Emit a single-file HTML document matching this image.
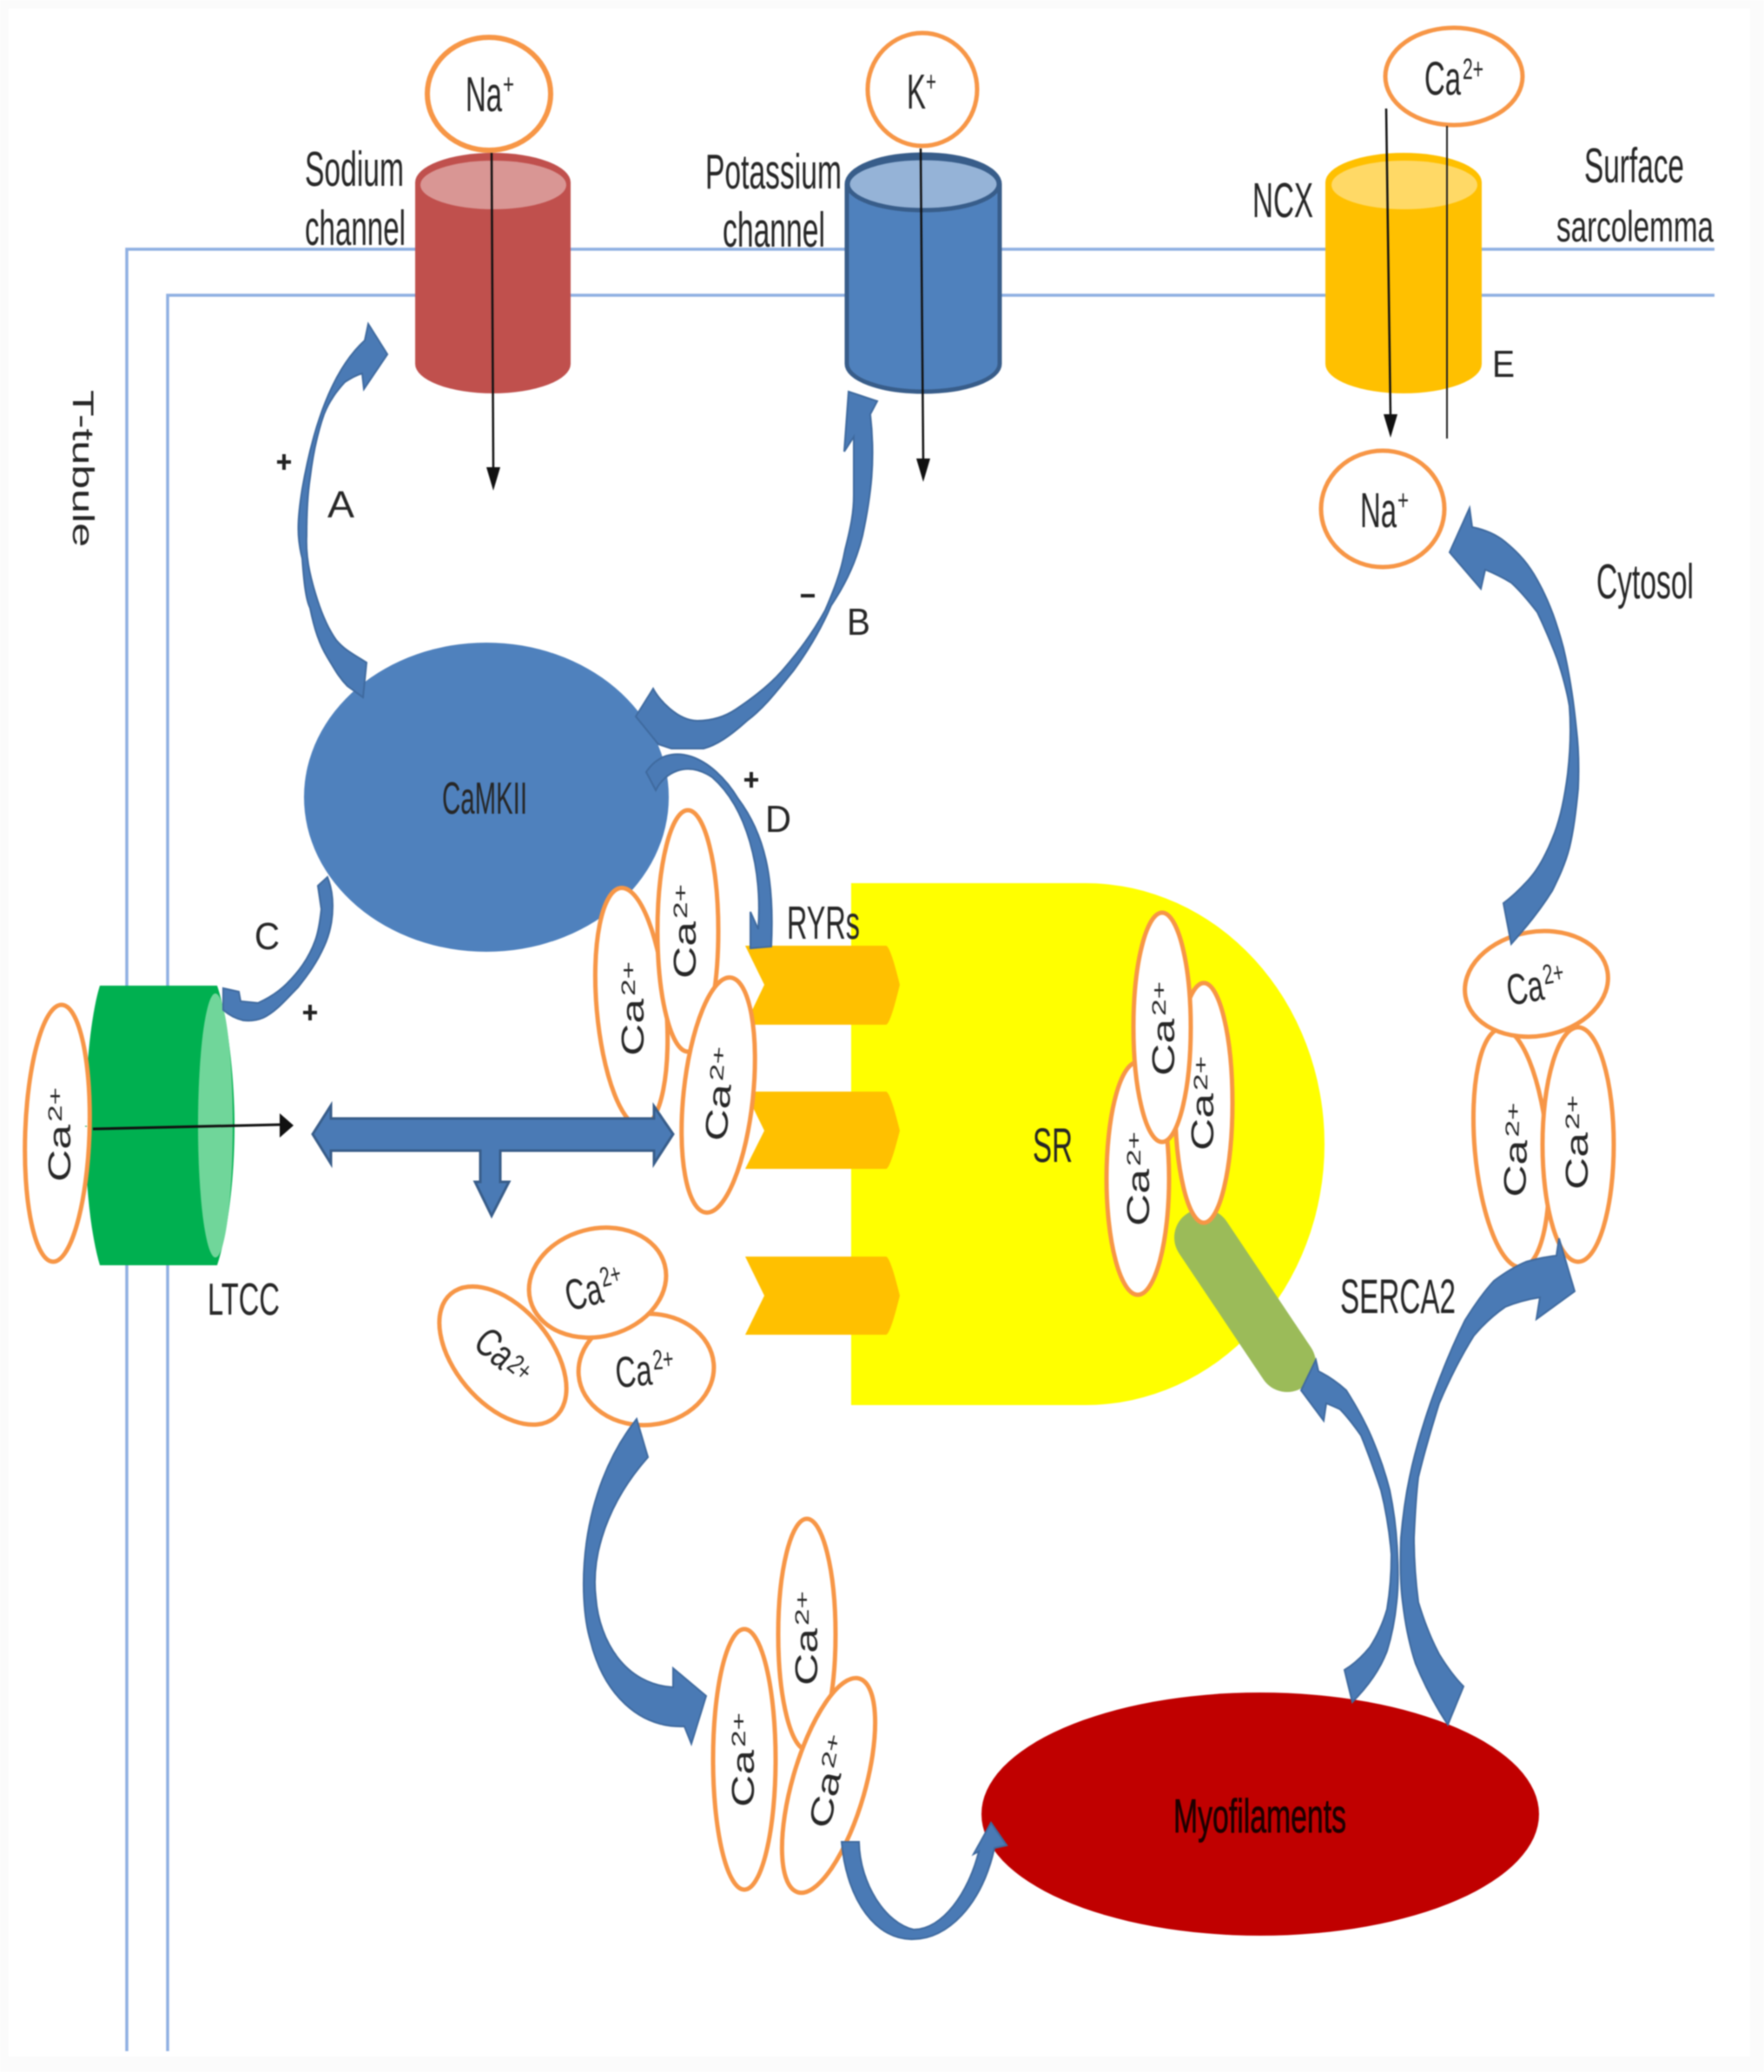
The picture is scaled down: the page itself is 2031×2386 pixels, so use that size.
<!DOCTYPE html>
<html><head><meta charset="utf-8"><style>
html,body{margin:0;padding:0;background:#fff}
svg{display:block;filter:blur(.9px)}
text{font-family:"Liberation Sans",sans-serif;fill:#262626}
.b{fill:#4a7ab5;stroke:#3f6a9f;stroke-width:2}
.o{fill:#fff;stroke:#f79646;stroke-width:5}
.c{fill:#111}
</style></head><body>
<svg width="2031" height="2386" viewBox="0 0 2031 2386" xmlns="http://www.w3.org/2000/svg">
<rect width="2031" height="2386" fill="#fbfbfb"/>
<rect x="10" y="10" width="2005" height="2358" fill="#fff"/>

<!-- membrane -->
<path d="M1974 287H146V2362M1974 340H193V2362" fill="none" stroke="#8fb0e2" stroke-width="3.5"/>
<text transform="translate(84 449) rotate(90)" font-size="34" textLength="181" lengthAdjust="spacingAndGlyphs" fill="#444">T-tubule</text>

<!-- SR -->
<path d="M980 1017H1250A275 300.500 0 0 1 1250 1618H980Z" fill="#ffff00"/>
<path d="M858 1089H1020Q1025 1089 1036 1134Q1025 1180 1020 1180H858L880 1134Z" fill="#ffc000"/>
<path d="M858 1257H1020Q1025 1257 1036 1302Q1025 1346 1020 1346H858L880 1302Z" fill="#ffc000"/>
<path d="M858 1447H1020Q1025 1447 1036 1492Q1025 1537 1020 1537H858L880 1492Z" fill="#ffc000"/>
<line x1="1385" y1="1425" x2="1482" y2="1570" stroke="#9bbb59" stroke-width="66" stroke-linecap="round"/>
<text x="1189" y="1338" font-size="56" textLength="46" lengthAdjust="spacingAndGlyphs" fill="#1a1a1a">SR</text>
<text x="906" y="1081" font-size="54" textLength="84" lengthAdjust="spacingAndGlyphs">RYRs</text>
<text x="1543" y="1512" font-size="56" textLength="133" lengthAdjust="spacingAndGlyphs">SERCA2</text>

<!-- Cylinders -->
<path d="M478 210V419A89.500 34 0 0 0 657 419V210A89.500 34 0 0 0 478 210Z" fill="#c0504d"/>
<ellipse cx="568" cy="213" rx="84" ry="28" fill="#d99694"/>
<path d="M975 212V419A88 32 0 0 0 1151 419V212A88 34 0 0 0 975 212Z" fill="#4f81bd" stroke="#385d8a" stroke-width="5"/>
<ellipse cx="1063" cy="212" rx="87" ry="30" fill="#95b3d7" stroke="#385d8a" stroke-width="5"/>
<path d="M1526 210V419A90 34 0 0 0 1706 419V210A90 34 0 0 0 1526 210Z" fill="#ffc000"/>
<ellipse cx="1617" cy="213" rx="84" ry="28" fill="#ffd966"/>
<path d="M115 1135H250C262 1170 270 1240 270 1296C270 1360 262 1420 250 1457H115C104 1420 98 1360 98 1296C98 1240 104 1170 115 1135Z" fill="#00b050"/>
<ellipse cx="248" cy="1296" rx="20" ry="152" fill="#70d69a"/>

<!-- Main ions top -->
<ellipse cx="563" cy="108" rx="71" ry="65" class="o" style="stroke-width:6"/>
<ellipse cx="1062" cy="103" rx="63" ry="65" class="o"/>
<ellipse cx="1674" cy="88" rx="79" ry="56" class="o"/>
<ellipse cx="1592" cy="586" rx="71" ry="67" class="o"/>

<text x="536" y="128" font-size="57" textLength="42" lengthAdjust="spacingAndGlyphs">Na</text>
<text x="579" y="108" font-size="32" textLength="13" lengthAdjust="spacingAndGlyphs">+</text>
<text x="1044" y="125" font-size="57" textLength="22" lengthAdjust="spacingAndGlyphs">K</text>
<text x="1066" y="105" font-size="32" textLength="12" lengthAdjust="spacingAndGlyphs">+</text>
<text x="1640" y="109" font-size="55" textLength="42" lengthAdjust="spacingAndGlyphs">Ca</text>
<text x="1684" y="91" font-size="34" textLength="24" lengthAdjust="spacingAndGlyphs">2+</text>
<text x="1566" y="607" font-size="57" textLength="42" lengthAdjust="spacingAndGlyphs">Na</text>
<text x="1609" y="587" font-size="32" textLength="13" lengthAdjust="spacingAndGlyphs">+</text>

<text x="351" y="214" font-size="57" textLength="114" lengthAdjust="spacingAndGlyphs">Sodium</text>
<text x="351" y="282" font-size="57" textLength="116" lengthAdjust="spacingAndGlyphs">channel</text>
<text x="812" y="217" font-size="57" textLength="157" lengthAdjust="spacingAndGlyphs">Potassium</text>
<text x="832" y="284" font-size="57" textLength="118" lengthAdjust="spacingAndGlyphs">channel</text>
<text x="1442" y="250" font-size="57" textLength="70" lengthAdjust="spacingAndGlyphs">NCX</text>
<text x="1824" y="210" font-size="57" textLength="115" lengthAdjust="spacingAndGlyphs">Surface</text>
<text x="1792" y="278" font-size="50" textLength="181" lengthAdjust="spacingAndGlyphs">sarcolemma</text>
<text x="1838" y="689" font-size="57" textLength="112" lengthAdjust="spacingAndGlyphs">Cytosol</text>

<!-- black arrows -->
<path d="M566 176L568 540" stroke="#111" stroke-width="2.500" fill="none"/><path d="M560 538H576L568 565Z" class="c"/>
<path d="M1060 171L1063 530" stroke="#111" stroke-width="2.500" fill="none"/><path d="M1055 528H1071L1063 555Z" class="c"/>
<path d="M1596 125L1601 480" stroke="#111" stroke-width="2.500" fill="none"/><path d="M1593 477H1609L1601 504Z" class="c"/>
<path d="M1666 145V505" stroke="#222" stroke-width="2"/>

<text x="1718" y="434" font-size="44" textLength="26" lengthAdjust="spacingAndGlyphs" fill="#111">E</text>
<text x="377" y="596" font-size="44" textLength="31" lengthAdjust="spacingAndGlyphs" fill="#111">A</text>
<text x="975" y="731" font-size="44" textLength="27" lengthAdjust="spacingAndGlyphs" fill="#111">B</text>
<text x="293" y="1093" font-size="44" textLength="29" lengthAdjust="spacingAndGlyphs" fill="#111">C</text>
<text x="881" y="958" font-size="44" textLength="30" lengthAdjust="spacingAndGlyphs" fill="#111">D</text>
<path d="M319 532H335M327 523V541M922 686H938M857 898H873M865 889V907M349 1166H365M357 1157V1175" stroke="#222" stroke-width="4" fill="none"/>

<!-- CaMKII -->
<ellipse cx="560" cy="918" rx="210" ry="178" fill="#4f81bd"/>
<text x="509" y="937" font-size="52" textLength="98" lengthAdjust="spacingAndGlyphs" fill="#0f1c33">CaMKII</text>

<!-- Curved arrows top -->
<path class="b" d="M446 408L424 373L420 392C387 422 363 477 348 563C342 600 342 620 348 643C350 670 352 690 357 700C362 725 368 742 377 757C385 770 390 780 400 790L418 803L422 763C410 755 398 750 387 737C375 720 368 700 363 683C356 660 352 640 353 617C353 590 354 570 357 550C360 525 365 500 373 477C380 460 388 450 397 440C405 435 410 432 417 430L419 448Z"/>
<path class="b" d="M977 451L1010 462L1002 477C1008 530 1003 570 993 617C985 650 972 675 957 697C945 725 930 750 913 773C895 795 880 815 860 830C840 848 825 858 810 862L773 862L758 857L732 825L752 793C758 805 780 830 803 830C820 830 835 825 847 817C865 805 885 790 900 773C920 750 935 730 950 703C960 680 968 660 973 633C980 605 983 590 983 570L983 503L972 520Z"/>
<path class="b" d="M744 889C770 850 820 870 850 920C880 960 892 1010 888 1090L864 1092L864 1050L873 1070C878 1000 860 930 820 895C790 875 765 890 755 910Z"/>
<path class="b" d="M377 1010L366 1020L370 1047C368 1065 366 1075 363 1083C355 1105 343 1120 330 1133C320 1143 308 1150 297 1155L277 1153L275 1142L257 1138L257 1163C265 1170 272 1173 280 1175C288 1176 296 1175 303 1172C318 1165 330 1150 343 1137C355 1122 365 1108 373 1090C380 1075 383 1060 383 1043C383 1030 381 1020 377 1010Z"/>

<!-- Ca cluster near CaMKII -->
<g transform="rotate(-5 727 1160)"><ellipse cx="727" cy="1160" rx="40" ry="138" class="o"/></g>
<ellipse cx="792" cy="1072" rx="35" ry="139" class="o"/>
<g transform="rotate(6 827 1261)"><ellipse cx="827" cy="1261" rx="40" ry="136" class="o"/></g>

<g transform="translate(741 1216) rotate(-90)"><text font-size="36" textLength="66" lengthAdjust="spacingAndGlyphs">Ca</text><text x="69" y="-10" font-size="22" textLength="40" lengthAdjust="spacingAndGlyphs">2+</text></g>
<g transform="translate(801 1127) rotate(-90)"><text font-size="36" textLength="66" lengthAdjust="spacingAndGlyphs">Ca</text><text x="69" y="-10" font-size="22" textLength="40" lengthAdjust="spacingAndGlyphs">2+</text></g>
<g transform="translate(836 1315) rotate(-85)"><text font-size="36" textLength="66" lengthAdjust="spacingAndGlyphs">Ca</text><text x="69" y="-10" font-size="22" textLength="40" lengthAdjust="spacingAndGlyphs">2+</text></g>

<!-- Double arrow -->
<path fill="#4a7ab5" stroke="#385d8a" stroke-width="3" d="M360 1306L381 1273V1288H753V1274L775 1306L753 1340V1325H576V1361H586L566 1400L547 1361H553V1325H381V1340Z"/>

<!-- LTCC -->
<ellipse cx="66" cy="1305" rx="37" ry="148" class="o" transform="rotate(2 66 1305)"/>
<g transform="translate(81 1361) rotate(-90)"><text font-size="36" textLength="66" lengthAdjust="spacingAndGlyphs">Ca</text><text x="69" y="-10" font-size="22" textLength="40" lengthAdjust="spacingAndGlyphs">2+</text></g>
<path d="M98 1297H100" stroke="#00b050" stroke-width="1"/>
<path d="M107 1300L325 1295" stroke="#111" stroke-width="3"/>
<path d="M322 1282L338 1296L322 1310Z" class="c"/>
<text x="239" y="1514" font-size="52" textLength="83" lengthAdjust="spacingAndGlyphs">LTCC</text>

<!-- Lower-left cluster -->
<ellipse cx="579" cy="1561" rx="93" ry="55" class="o" transform="rotate(50 579 1561)"/>
<ellipse cx="744" cy="1577" rx="78" ry="64" class="o" transform="rotate(-5 744 1577)"/>
<ellipse cx="688" cy="1477" rx="80" ry="62" class="o" transform="rotate(-15 688 1477)"/>
<g transform="translate(656 1510) rotate(-15)"><text font-size="50" textLength="42" lengthAdjust="spacingAndGlyphs">Ca</text><text x="44" y="-17" font-size="32" textLength="24" lengthAdjust="spacingAndGlyphs">2+</text></g>
<g transform="translate(710 1598) rotate(-5)"><text font-size="50" textLength="42" lengthAdjust="spacingAndGlyphs">Ca</text><text x="44" y="-17" font-size="32" textLength="24" lengthAdjust="spacingAndGlyphs">2+</text></g>
<g transform="translate(543 1550) rotate(40)"><text font-size="46" textLength="44" lengthAdjust="spacingAndGlyphs">Ca</text><text x="46" y="-6" font-size="32" textLength="26" lengthAdjust="spacingAndGlyphs">2+</text></g>

<!-- SR ovals -->
<ellipse cx="1310" cy="1357" rx="36" ry="134" class="o"/>
<ellipse cx="1386" cy="1270" rx="33" ry="138" class="o"/>
<ellipse cx="1338" cy="1183" rx="33" ry="132" class="o"/>
<g transform="translate(1323 1412) rotate(-90)"><text font-size="36" textLength="66" lengthAdjust="spacingAndGlyphs">Ca</text><text x="69" y="-10" font-size="22" textLength="40" lengthAdjust="spacingAndGlyphs">2+</text></g>
<g transform="translate(1397 1325) rotate(-90)"><text font-size="36" textLength="66" lengthAdjust="spacingAndGlyphs">Ca</text><text x="69" y="-7" font-size="22" textLength="40" lengthAdjust="spacingAndGlyphs">2+</text></g>
<g transform="translate(1352 1239) rotate(-90)"><text font-size="36" textLength="66" lengthAdjust="spacingAndGlyphs">Ca</text><text x="69" y="-10" font-size="22" textLength="40" lengthAdjust="spacingAndGlyphs">2+</text></g>

<!-- Right cluster -->
<ellipse cx="1740" cy="1322" rx="42" ry="138" class="o" transform="rotate(-5 1740 1322)"/>
<ellipse cx="1817" cy="1318" rx="41" ry="135" class="o"/>
<ellipse cx="1769" cy="1133" rx="83" ry="60" class="o" transform="rotate(-10 1769 1133)"/>
<g transform="translate(1738 1158) rotate(-10)"><text font-size="50" textLength="42" lengthAdjust="spacingAndGlyphs">Ca</text><text x="44" y="-17" font-size="32" textLength="24" lengthAdjust="spacingAndGlyphs">2+</text></g>
<g transform="translate(1756 1379) rotate(-88)"><text font-size="36" textLength="66" lengthAdjust="spacingAndGlyphs">Ca</text><text x="69" y="-10" font-size="22" textLength="40" lengthAdjust="spacingAndGlyphs">2+</text></g>
<g transform="translate(1828 1370) rotate(-90)"><text font-size="36" textLength="66" lengthAdjust="spacingAndGlyphs">Ca</text><text x="69" y="-10" font-size="22" textLength="40" lengthAdjust="spacingAndGlyphs">2+</text></g>

<!-- Lower cluster -->
<ellipse cx="929" cy="1882" rx="33" ry="133" class="o"/>
<ellipse cx="857" cy="2026" rx="36" ry="150" class="o"/>
<ellipse cx="954" cy="2056" rx="42" ry="128" class="o" transform="rotate(16 954 2056)"/>
<g transform="translate(941 1941) rotate(-90)"><text font-size="36" textLength="66" lengthAdjust="spacingAndGlyphs">Ca</text><text x="69" y="-10" font-size="22" textLength="40" lengthAdjust="spacingAndGlyphs">2+</text></g>
<g transform="translate(868 2081) rotate(-90)"><text font-size="36" textLength="66" lengthAdjust="spacingAndGlyphs">Ca</text><text x="69" y="-10" font-size="22" textLength="40" lengthAdjust="spacingAndGlyphs">2+</text></g>
<g transform="translate(955 2107) rotate(-78)"><text font-size="36" textLength="66" lengthAdjust="spacingAndGlyphs">Ca</text><text x="69" y="-10" font-size="22" textLength="40" lengthAdjust="spacingAndGlyphs">2+</text></g>

<!-- Myofilaments -->
<ellipse cx="1451" cy="2089" rx="321" ry="140" fill="#c00000"/>
<text x="1351" y="2110" font-size="55" textLength="199" lengthAdjust="spacingAndGlyphs" style="fill:#1c0000;stroke:#1c0000;stroke-width:.7">Myofilaments</text>

<!-- Remaining arrows -->
<path class="b" d="M733 1634L746 1678C700 1730 680 1790 686 1840C690 1890 720 1940 775 1943L775 1921L813 1953L796 2008L788 1988C735 1990 695 1950 680 1890C665 1840 665 1720 733 1634Z"/>
<path class="b" d="M969 2121L989 2121C990 2170 1020 2215 1052 2222C1085 2222 1115 2180 1127 2132L1121 2135L1141 2099L1159 2125L1145 2128C1130 2195 1090 2233 1052 2233C1010 2235 975 2190 969 2121Z"/>
<path class="b" d="M1669 636L1692 585L1695 607C1710 610 1722 615 1733 624C1750 638 1760 650 1770 668C1785 695 1793 720 1800 746C1808 780 1812 810 1815 840C1818 865 1818 885 1817 908C1815 930 1812 955 1807 976C1802 995 1795 1010 1787 1026C1772 1050 1755 1070 1740 1087L1731 1040C1742 1032 1750 1024 1760 1013C1772 1000 1782 980 1790 959C1797 940 1802 915 1805 891C1808 865 1809 838 1807 813C1804 795 1799 777 1793 759C1786 740 1778 722 1770 705C1760 692 1750 680 1740 671C1730 665 1720 660 1710 656L1705 678Z"/>
<path class="b" d="M1498 1601L1515 1566L1518 1579C1530 1585 1540 1592 1550 1601C1562 1620 1572 1638 1580 1657C1588 1676 1595 1696 1600 1716C1605 1740 1608 1765 1609 1790C1610 1810 1610 1828 1608 1845C1606 1865 1602 1885 1597 1901C1588 1925 1572 1945 1557 1960L1548 1923C1558 1917 1568 1908 1577 1897C1585 1885 1592 1870 1597 1853C1600 1835 1602 1812 1602 1790C1600 1765 1596 1740 1590 1716C1583 1695 1576 1675 1567 1653C1560 1643 1552 1632 1543 1623C1537 1620 1532 1618 1527 1616L1524 1636Z"/>
<path class="b" d="M1813 1487L1795 1426L1792 1446C1780 1447 1768 1450 1757 1453C1745 1458 1732 1466 1720 1475C1708 1488 1697 1504 1687 1520C1672 1550 1658 1585 1647 1616C1637 1645 1629 1672 1623 1701C1618 1725 1615 1748 1613 1771C1612 1797 1612 1822 1615 1845C1618 1870 1623 1895 1630 1916C1640 1940 1653 1965 1667 1986L1685 1942C1675 1932 1665 1918 1657 1905C1648 1888 1640 1868 1633 1845C1630 1822 1628 1795 1628 1771C1629 1748 1630 1725 1633 1701C1640 1672 1648 1645 1657 1616C1668 1590 1682 1562 1697 1538C1708 1525 1720 1514 1733 1505C1745 1500 1760 1496 1773 1494L1769 1519Z"/>
</svg>
</body></html>
